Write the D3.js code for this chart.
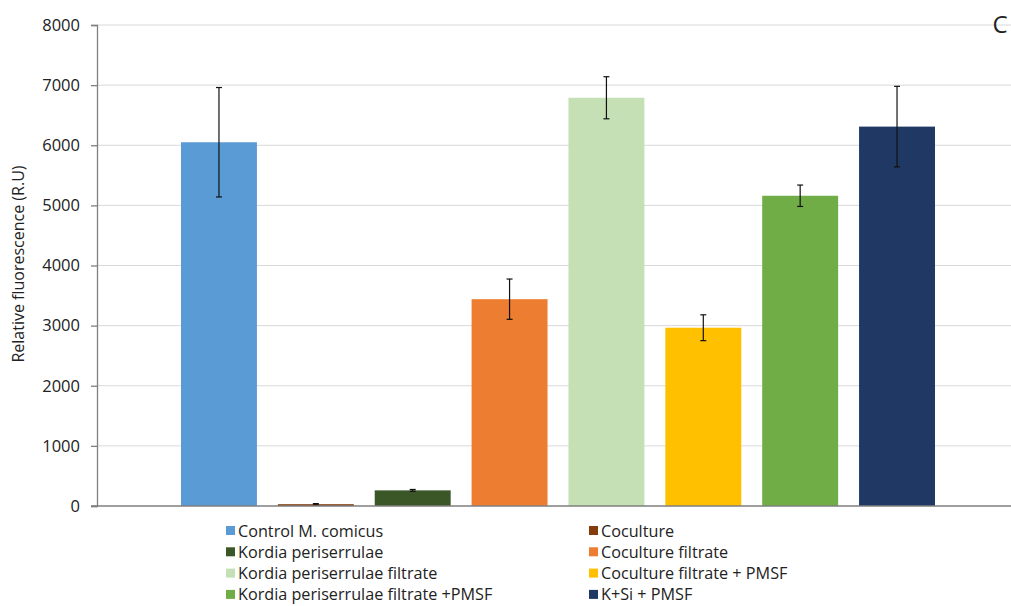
<!DOCTYPE html>
<html><head><meta charset="utf-8">
<script src="https://cdn.jsdelivr.net/npm/d3@7"></script>
<style>body{margin:0;background:#fff;}text{font-family:"Open Sans","Liberation Sans",sans-serif;fill:#222;}</style>
</head><body><svg id="c" width="1011" height="606"></svg>
<script>
const series = ["Control M. comicus","Coculture","Kordia periserrulae","Coculture filtrate","Kordia periserrulae filtrate","Coculture filtrate + PMSF","Kordia periserrulae filtrate +PMSF","K+Si + PMSF"];
const values = [6050, 30, 260, 3440, 6790, 2965, 5160, 6310];
const errors = [910, 10, 15, 335, 350, 215, 178, 670];
const colors = ["#5B9BD5","#843C0C","#3B5728","#ED7D31","#C5E0B4","#FFC000","#70AD47","#1F3864"];
const yTicks = [0,1000,2000,3000,4000,5000,6000,7000,8000];

const svg = d3.select("#c");
const xL = 97, xR = 1011, yT = 25, yB = 506;
const y = d3.scaleLinear().domain([0,8000]).range([yB,yT]);
const x = d3.scaleBand().domain(series).range([181,935]).paddingInner(0.216).paddingOuter(0);

// gridlines
svg.append("g").selectAll("line").data(yTicks.filter(d=>d>0)).join("line")
  .attr("x1",xL).attr("x2",xR).attr("y1",d=>y(d)).attr("y2",d=>y(d))
  .attr("stroke","#d9d9d9").attr("stroke-width",1);

// bars
svg.append("g").selectAll("rect").data(series).join("rect")
  .attr("x",d=>x(d)).attr("width",x.bandwidth())
  .attr("y",(d,i)=>y(values[i])).attr("height",(d,i)=>yB-y(values[i]))
  .attr("fill",(d,i)=>colors[i]);

// error bars
const eb = svg.append("g").attr("stroke","#111").attr("stroke-width",1.2);
series.forEach((s,i)=>{
  const cx = x(s)+x.bandwidth()/2;
  const t = y(values[i]+errors[i]), b = y(values[i]-errors[i]);
  eb.append("line").attr("x1",cx).attr("x2",cx).attr("y1",t).attr("y2",b);
  eb.append("line").attr("x1",cx-3).attr("x2",cx+3).attr("y1",t).attr("y2",t);
  eb.append("line").attr("x1",cx-3).attr("x2",cx+3).attr("y1",b).attr("y2",b);
});

// y axis
const ya = svg.append("g").attr("transform",`translate(${xL},0)`)
  .call(d3.axisLeft(y).tickValues(yTicks).tickSize(6).tickPadding(11).tickFormat(d3.format("d")));
ya.select(".domain").attr("stroke","#7f7f7f").attr("stroke-width",1.3);
ya.selectAll(".tick line").attr("stroke","#7f7f7f").attr("stroke-width",1.3);
ya.selectAll(".tick text").attr("font-size",16.5).attr("fill","#222").attr("font-family","'Open Sans','Liberation Sans',sans-serif");

// baseline
svg.append("line").attr("x1",xL-6).attr("x2",xR).attr("y1",yB).attr("y2",yB)
  .attr("stroke","#7f7f7f").attr("stroke-width",1.5);

// y label
svg.append("text").attr("transform","translate(24,264) rotate(-90)")
  .attr("text-anchor","middle").attr("font-size",16).text("Relative fluorescence (R.U)");

// panel letter
svg.append("text").attr("x",1000).attr("y",33).attr("text-anchor","middle").attr("font-size",24).text("C");

// legend
const lg = svg.append("g");
series.forEach((s,i)=>{
  const col = i%2, row = Math.floor(i/2);
  const lx = col===0 ? 226 : 589, ly = 531 + row*21.3;
  lg.append("rect").attr("x",lx).attr("y",ly-5).attr("width",9).attr("height",9).attr("fill",colors[i]);
  lg.append("text").attr("x",lx+12).attr("y",ly+5.5).attr("font-size",16.2).text(s);
});
</script></body></html>
